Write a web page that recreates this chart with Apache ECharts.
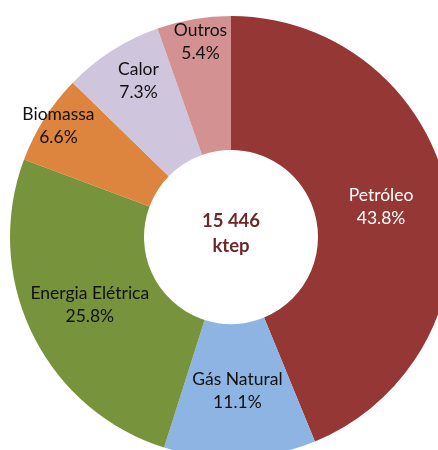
<!DOCTYPE html>
<html>
<head>
<meta charset="utf-8">
<script src="https://cdn.jsdelivr.net/npm/echarts@6/dist/echarts.min.js"></script>
<style>html,body{margin:0;padding:0;background:#fff;}#c{width:438px;height:450px;}</style>
</head>
<body>
<div id="c"></div>
<script>
const categories = ['Petróleo', 'Gás Natural', 'Energia Elétrica', 'Biomassa', 'Calor', 'Outros'];
const shares = [43.8, 11.1, 25.8, 6.6, 7.3, 5.4];
const totalText = '15 446';
const unitText = 'ktep';

const colors = ['#953735', '#8EB4E3', '#77933C', '#DD843E', '#CFC5DD', '#D39291'];
const labelColors = ['#ffffff', '#111', '#111', '#111', '#111', '#111'];
const labelShift = [[-4, 0], [0, -3], [0, -1], [-40, -27], [-8, -24], [-4, -40]];

const chart = echarts.init(document.getElementById('c'));
chart.setOption({
  animation: false,
  series: [{
    type: 'pie',
    center: [231, 237],
    radius: [87, 221],
    startAngle: 90,
    clockwise: true,
    avoidLabelOverlap: false,
    label: {
      show: true,
      position: 'inside',
      fontFamily: 'Lato',
      fontSize: 17.5,
      lineHeight: 23,
      formatter: p => p.name + '\n' + p.value.toFixed(1) + '%'
    },
    labelLine: { show: false },
    labelLayout: p => ({ dx: labelShift[p.dataIndex][0], dy: labelShift[p.dataIndex][1] }),
    emphasis: { disabled: true },
    itemStyle: { borderWidth: 0 },
    data: categories.map((c, i) => ({
      name: c,
      value: shares[i],
      itemStyle: { color: colors[i] },
      label: { color: labelColors[i] }
    }))
  }],
  graphic: [{
    type: 'text',
    x: 231,
    y: 234,
    style: {
      text: totalText + '\n' + unitText,
      textAlign: 'center',
      textVerticalAlign: 'middle',
      font: 'bold 18.5px Lato',
      lineHeight: 25,
      fill: '#6B2A2A'
    }
  }]
});
</script>
</body>
</html>
